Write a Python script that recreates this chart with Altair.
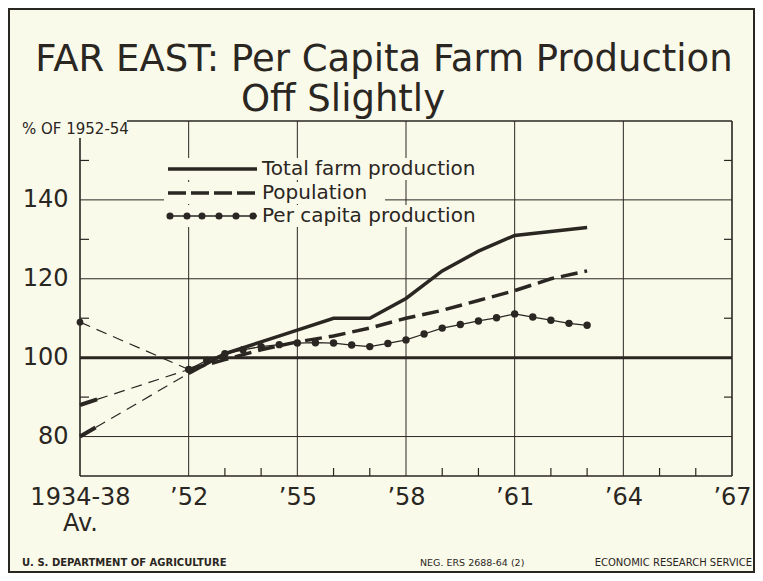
import altair as alt
import pandas as pd

BG = "#FAFAEB"
INK = "#2A2622"
FONT = "DejaVu Sans"

# ---------------- data ----------------
years = [1952, 1953, 1954, 1955, 1956, 1957, 1958, 1959, 1960, 1961, 1962, 1963]
total = [96, 101, 104, 107, 110, 110, 115, 122, 127, 131, 132, 133]
population = [97, 99.5, 102, 104, 105.5, 107.5, 110, 112, 114.5, 117, 120, 122]
pc_years = [1952, 1952.5, 1953, 1953.5, 1954, 1954.5, 1955, 1955.5, 1956, 1956.5,
            1957, 1957.5, 1958, 1958.5, 1959, 1959.5, 1960, 1960.5, 1961, 1961.5,
            1962, 1962.5, 1963]
per_capita = [97, 99.3, 101, 102, 102.8, 103.3, 103.7, 103.8, 103.7, 103.2,
              102.8, 103.6, 104.5, 106, 107.5, 108.4, 109.3, 110.1, 111.1, 110.3,
              109.5, 108.7, 108.2]
base_x = 1949            # position used for the 1934-38 average
base_total = 80
base_population = 88
base_per_capita = 109

x_label_values = [1949, 1952, 1955, 1958, 1961, 1964, 1967]
y_label_values = [80, 100, 120, 140]
v_grid = [1952, 1955, 1958, 1961, 1964]
h_grid = [80, 120, 140]
minor_y = [90, 110, 130, 150]
minor_x = [1953, 1954, 1956, 1957, 1959, 1960, 1962, 1963, 1965, 1966]

series_names = ["Total farm production", "Population", "Per capita production"]

# ---------------- layout ----------------
W, H = 652, 355
xs = alt.Scale(domain=[1949, 1967], nice=False, zero=False)
ys = alt.Scale(domain=[70, 160], nice=False, zero=False)

df_total = pd.DataFrame({"x": years, "y": total})
df_pop = pd.DataFrame({"x": years, "y": population})
df_pc = pd.DataFrame({"x": pc_years, "y": per_capita})
df_conn = pd.DataFrame({
    "s": ["t", "t", "p", "p", "c", "c"],
    "x": [base_x, years[0], base_x, years[0], base_x, pc_years[0]],
    "y": [base_total, total[0], base_population, population[0], base_per_capita, per_capita[0]],
})
one = pd.DataFrame({"d": [0]})

x_axis = alt.Axis(values=x_label_values, grid=False, domain=False, ticks=False,
                  labelExpr="datum.value == 1949 ? ['1934-38', 'Av.'] : '\u2019' + substring(toString(datum.value), 2, 4)",
                  labelFontSize=24, labelFont=FONT, labelColor=INK, labelPadding=9,
                  labelFlush=False, labelOverlap=False, labelBound=False,
                  labelLineHeight=26, title=None)
y_axis = alt.Axis(values=y_label_values, grid=False, domain=False, ticks=False,
                  labelFontSize=24, labelFont=FONT, labelColor=INK, labelPadding=12,
                  labelOverlap=False, labelBound=False, labelFlush=False, title=None)


def txt(text, x, y, size, align="left", weight="normal", baseline="alphabetic"):
    return alt.Chart(pd.DataFrame({"t": [text]})).mark_text(
        align=align, baseline=baseline, fontSize=size, font=FONT,
        fontWeight=weight, color=INK
    ).encode(x=alt.value(x), y=alt.value(y), text="t:N")


def hrule(x1, x2, y, w=1.0, dash=None):
    kw = dict(color=INK, strokeWidth=w)
    if dash:
        kw["strokeDash"] = dash
    return alt.Chart(one).mark_rule(**kw).encode(
        x=alt.value(x1), x2=alt.value(x2), y=alt.value(y))


def vrule(x, y1, y2, w=1.0):
    return alt.Chart(one).mark_rule(color=INK, strokeWidth=w).encode(
        x=alt.value(x), y=alt.value(y1), y2=alt.value(y2))


def erase(x1, x2, y1, y2):
    return alt.Chart(one).mark_rect(color=BG).encode(
        x=alt.value(x1), x2=alt.value(x2), y=alt.value(y1), y2=alt.value(y2))


layers = []

# outer frame of the whole sheet
layers.append(alt.Chart(one).mark_rect(filled=False, stroke=INK, strokeWidth=2).encode(
    x=alt.value(-71), x2=alt.value(674), y=alt.value(-112), y2=alt.value(451)))

# grid
layers.append(alt.Chart(pd.DataFrame({"x": v_grid})).mark_rule(color=INK, strokeWidth=1).encode(
    x=alt.X("x:Q", scale=xs, axis=x_axis), y=alt.value(0), y2=alt.value(H)))
layers.append(alt.Chart(pd.DataFrame({"y": h_grid})).mark_rule(color=INK, strokeWidth=1).encode(
    y=alt.Y("y:Q", scale=ys, axis=y_axis), x=alt.value(0), x2=alt.value(W)))

# plot frame
layers.append(vrule(0, 17, H, 1.6))
layers.append(vrule(W, 0, H, 1.6))
layers.append(hrule(0, W, H, 1.6))
layers.append(hrule(47, W, 0, 1.6))

# minor ticks
layers.append(alt.Chart(pd.DataFrame({"y": minor_y})).mark_rule(color=INK, strokeWidth=1.2).encode(
    y=alt.Y("y:Q", scale=ys), x=alt.value(0), x2=alt.value(9)))
layers.append(alt.Chart(pd.DataFrame({"y": minor_y})).mark_rule(color=INK, strokeWidth=1.2).encode(
    y=alt.Y("y:Q", scale=ys), x=alt.value(W - 8), x2=alt.value(W)))
layers.append(alt.Chart(pd.DataFrame({"x": minor_x})).mark_rule(color=INK, strokeWidth=1.2).encode(
    x=alt.X("x:Q", scale=xs), y=alt.value(H - 8), y2=alt.value(H)))

# heavy 100 line
layers.append(alt.Chart(pd.DataFrame({"y": [100]})).mark_rule(color=INK, strokeWidth=3).encode(
    y=alt.Y("y:Q", scale=ys), x=alt.value(0), x2=alt.value(W)))

# legend (gridlines are cleared behind it)
layers.append(erase(84, 419, 37, 59))
layers.append(erase(84, 305, 61, 83))
layers.append(erase(84, 419, 84, 106))
layers.append(hrule(88, 177, 48, 3.5))
layers.append(hrule(88, 177, 72, 3.5, [18, 5]))
layers.append(hrule(88, 177, 95, 1.3))
layers.append(alt.Chart(pd.DataFrame({"px": [90, 107, 122, 139, 156, 173]})).mark_point(
    filled=True, color=INK, opacity=1, size=50).encode(
    x=alt.X("px:Q", scale=None), y=alt.value(95)))
for name, yy in zip(series_names, [48, 72, 95]):
    layers.append(txt(name, 182, yy, 20, baseline="middle"))

# 1934-38 connectors
layers.append(alt.Chart(df_conn).mark_line(color=INK, strokeWidth=1.2, strokeDash=[11, 7]).encode(
    x=alt.X("x:Q", scale=xs), y=alt.Y("y:Q", scale=ys), detail="s:N"))
layers.append(alt.Chart(df_conn[df_conn.s != "c"]).mark_line(color=INK, strokeWidth=4, strokeDash=[18, 3000]).encode(
    x=alt.X("x:Q", scale=xs), y=alt.Y("y:Q", scale=ys), detail="s:N"))
layers.append(alt.Chart(pd.DataFrame({"x": [base_x], "y": [base_per_capita]})).mark_point(
    filled=True, color=INK, opacity=1, size=45).encode(
    x=alt.X("x:Q", scale=xs), y=alt.Y("y:Q", scale=ys)))

# series
layers.append(alt.Chart(df_total).mark_line(color=INK, strokeWidth=3.5).encode(
    x=alt.X("x:Q", scale=xs), y=alt.Y("y:Q", scale=ys)))
layers.append(alt.Chart(df_pop).mark_line(color=INK, strokeWidth=3.5, strokeDash=[17, 7]).encode(
    x=alt.X("x:Q", scale=xs), y=alt.Y("y:Q", scale=ys)))
layers.append(alt.Chart(df_pc).mark_line(color=INK, strokeWidth=1.3).encode(
    x=alt.X("x:Q", scale=xs), y=alt.Y("y:Q", scale=ys)))
layers.append(alt.Chart(df_pc).mark_point(filled=True, color=INK, opacity=1, size=55).encode(
    x=alt.X("x:Q", scale=xs), y=alt.Y("y:Q", scale=ys)))

# texts
layers.append(txt("FAR EAST: Per Capita Farm Production", 304, -50, 37, align="center"))
layers.append(txt("Off Slightly", 263, -10, 37, align="center"))
layers.append(txt("% OF 1952-54", -58, 13, 15))
layers.append(txt("U. S. DEPARTMENT OF AGRICULTURE", -58, 445, 10, weight="bold"))
layers.append(txt("NEG. ERS 2688-64 (2)", 340, 445, 9.5))
layers.append(txt("ECONOMIC RESEARCH SERVICE", 672, 445, 10, align="right"))

chart = alt.layer(*layers).properties(
    width=W, height=H,
    padding={"left": 72, "top": 113, "right": 23, "bottom": 97},
    autosize=alt.AutoSizeParams(type="none"),
).configure(background=BG).configure_view(stroke=None)

chart.save("out.html", embed_options={"renderer": "svg", "actions": False})
